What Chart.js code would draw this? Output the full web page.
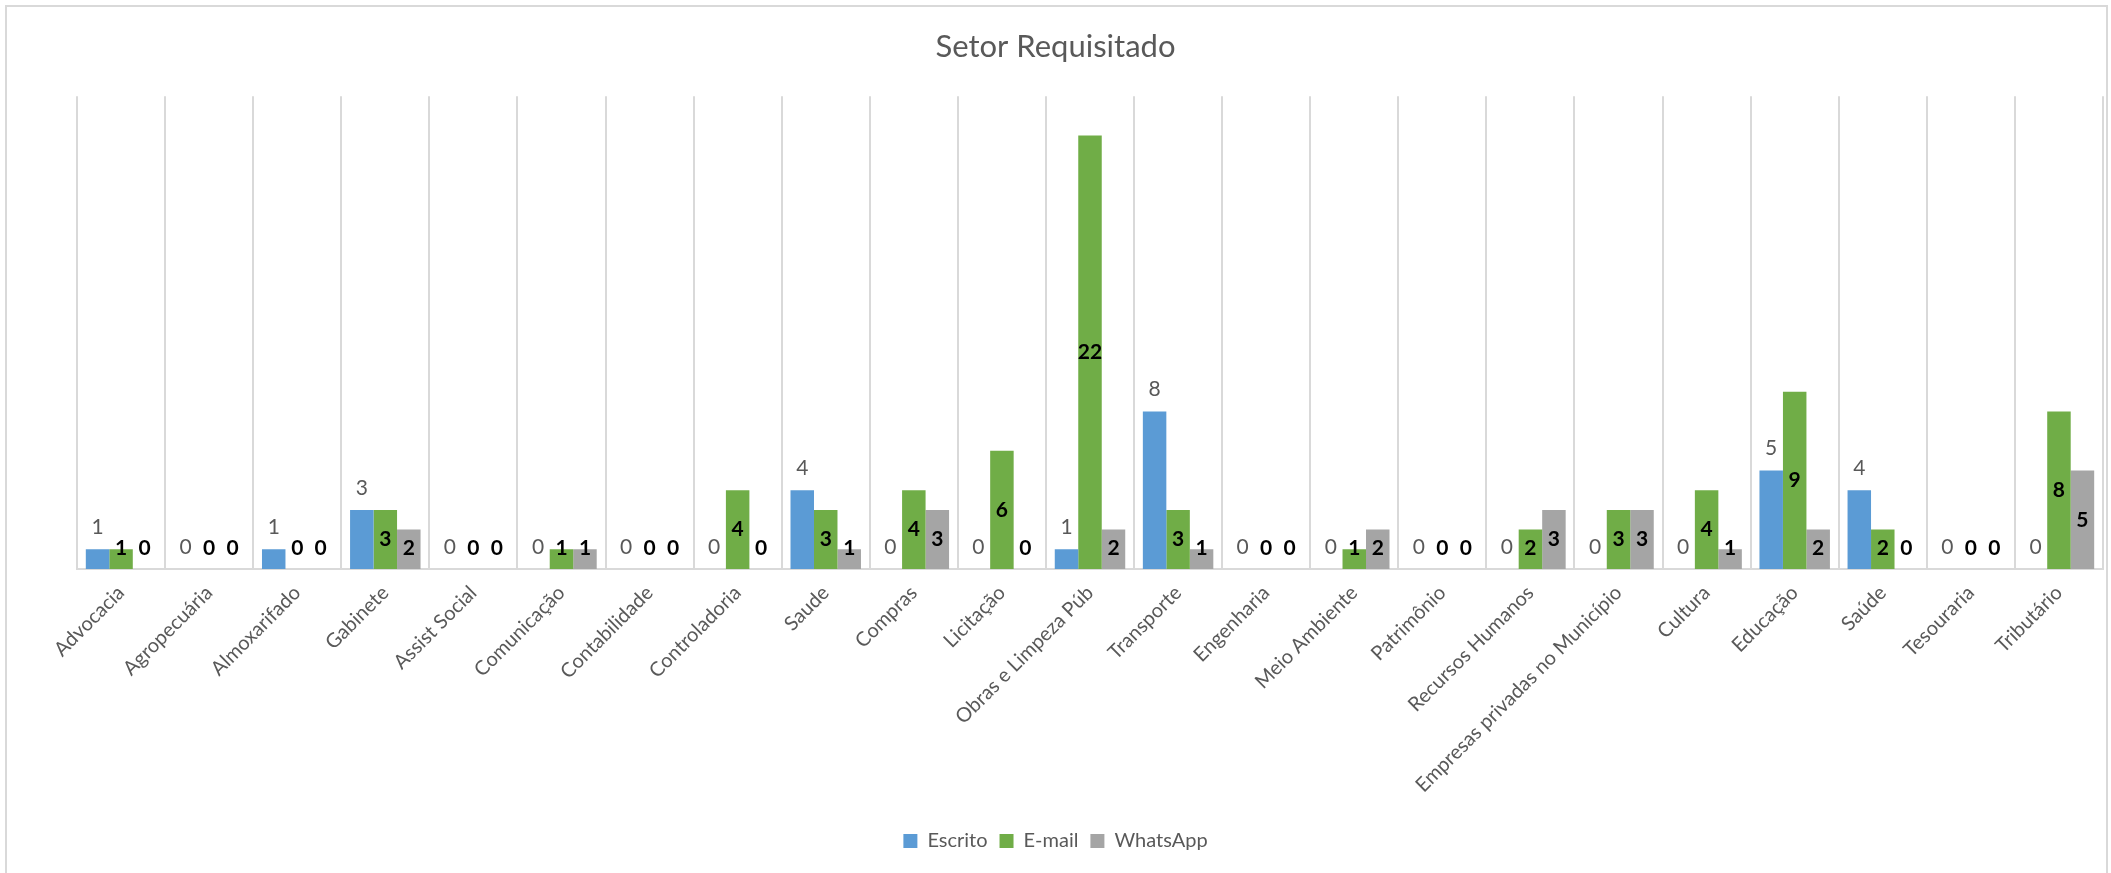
<!DOCTYPE html>
<html>
<head>
<meta charset="UTF-8">
<title>Setor Requisitado</title>
<script src="https://cdn.jsdelivr.net/npm/chart.js@4.4.1/dist/chart.umd.min.js"></script>
<style>
  body { margin: 0; background: #fff; }
  #wrap { width: 2111px; height: 873px; }
</style>
</head>
<body>
<div id="wrap"><canvas id="canvas"></canvas></div>
<script>
var setores = ['Advocacia', 'Agropecuária', 'Almoxarifado', 'Gabinete', 'Assist Social', 'Comunicação',
  'Contabilidade', 'Controladoria', 'Saude', 'Compras', 'Licitação', 'Obras e Limpeza Púb', 'Transporte',
  'Engenharia', 'Meio Ambiente', 'Patrimônio', 'Recursos Humanos', 'Empresas privadas no Município',
  'Cultura', 'Educação', 'Saúde', 'Tesouraria', 'Tributário'];
var escrito  = [1, 0, 1, 3, 0, 0, 0, 0, 4, 0, 0, 1, 8, 0, 0, 0, 0, 0, 0, 5, 4, 0, 0];
var email    = [1, 0, 0, 3, 0, 1, 0, 4, 3, 4, 6, 22, 3, 0, 1, 0, 2, 3, 4, 9, 2, 0, 8];
var whatsapp = [0, 0, 0, 2, 0, 1, 0, 0, 1, 3, 0, 2, 1, 0, 2, 0, 3, 3, 1, 2, 0, 0, 5];

var FONT = 'Lato, "Open Sans", sans-serif';
var TXT = '#595959';
var GRID = '#d9d9d9';
var XAXIS_H = 250;

// moldura + fundo
var frame = {
  id: 'frame',
  beforeDraw: function(chart) {
    var c = chart.ctx;
    c.save();
    c.fillStyle = '#fff';
    c.fillRect(0, 0, chart.width, chart.height);
    c.strokeStyle = GRID;
    c.lineWidth = 2;
    c.strokeRect(6, 6, chart.width - 10, chart.height + 10);
    c.restore();
  }
};

// rotulos de dados (sem plugin externo)
var rotulos = {
  id: 'rotulos',
  afterDatasetsDraw: function(chart) {
    var c = chart.ctx;
    c.save();
    c.textAlign = 'center';
    c.textBaseline = 'middle';
    chart.data.datasets.forEach(function(ds, i) {
      var meta = chart.getDatasetMeta(i);
      meta.data.forEach(function(bar, j) {
        var v = ds.data[j];
        var y;
        if (i === 0) {
          c.font = '21px ' + FONT;
          c.fillStyle = TXT;
          y = bar.y - 22;
        } else {
          c.font = 'bold 21px ' + FONT;
          c.fillStyle = '#000';
          y = Math.min((bar.y + bar.base) / 2, bar.base - 21);
        }
        c.fillText(String(v), bar.x, y);
      });
    });
    c.restore();
  }
};

new Chart(document.getElementById('canvas'), {
  type: 'bar',
  data: {
    labels: setores,
    datasets: [
      { label: 'Escrito', data: escrito, backgroundColor: '#5b9bd5' },
      { label: 'E-mail', data: email, backgroundColor: '#70ad47' },
      { label: 'WhatsApp', data: whatsapp, backgroundColor: '#a5a5a5' }
    ]
  },
  options: {
    responsive: true,
    maintainAspectRatio: false,
    animation: false,
    devicePixelRatio: 1,
    layout: { padding: { left: 8, right: 8, top: 0, bottom: 12 } },
    datasets: { bar: { categoryPercentage: 0.8, barPercentage: 1.0 } },
    plugins: {
      title: {
        display: true,
        text: 'Setor Requisitado',
        color: TXT,
        font: { family: FONT, size: 31, weight: 'normal' },
        padding: { top: 28, bottom: 31 }
      },
      legend: {
        position: 'bottom',
        labels: {
          color: TXT,
          boxWidth: 14,
          boxHeight: 14,
          padding: 12,
          font: { family: FONT, size: 20 }
        }
      },
      tooltip: { enabled: false }
    },
    scales: {
      x: {
        grid: { color: GRID, lineWidth: 2, drawTicks: false, offset: true },
        border: { color: GRID, width: 2 },
        ticks: {
          color: TXT,
          font: { family: FONT, size: 20 },
          minRotation: 45,
          maxRotation: 45,
          autoSkip: false,
          padding: 12
        },
        afterFit: function(scale) { scale.height = XAXIS_H; }
      },
      y: {
        min: 0,
        max: 24,
        grid: { display: false },
        border: { display: false },
        ticks: { display: false },
        afterFit: function(scale) { scale.width = 69; }
      }
    }
  },
  plugins: [frame, rotulos]
});
</script>
</body>
</html>
